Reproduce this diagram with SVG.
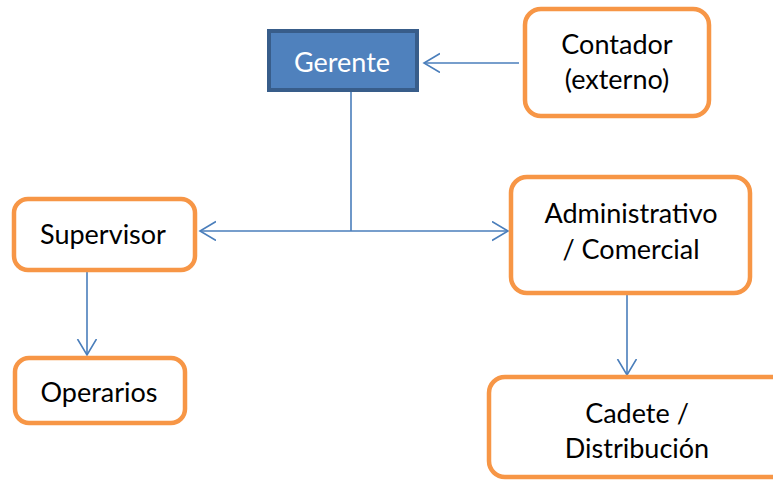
<svg xmlns="http://www.w3.org/2000/svg" width="773" height="480" viewBox="0 0 773 480">
<style>
.box{fill:#ffffff;stroke:#f79646;stroke-width:4.5}
.t{font-family:Lato,"Open Sans",sans-serif;font-size:27px;fill:#000000;text-anchor:middle}
.c{fill:none;stroke:#4a7ebb;stroke-width:1.6}
</style>
<defs>
<marker id="ah" markerUnits="userSpaceOnUse" markerWidth="20" markerHeight="22" refX="16" refY="10" orient="auto" viewBox="0 0 20 22">
<path d="M0,0.5 L16,10 L0,19.5" fill="none" stroke="#4a7ebb" stroke-width="1.6"/>
</marker>
</defs>
<g id="connectors">
<line class="c" x1="519" y1="63" x2="424" y2="63" marker-end="url(#ah)"/>
<line class="c" x1="351" y1="92" x2="351" y2="231"/>
<line class="c" x1="351" y1="231" x2="200" y2="231" marker-end="url(#ah)"/>
<line class="c" x1="351" y1="231" x2="508" y2="231" marker-end="url(#ah)"/>
<line class="c" x1="87" y1="272" x2="87" y2="355" marker-end="url(#ah)"/>
<line class="c" x1="627" y1="290" x2="627" y2="375" marker-end="url(#ah)"/>
</g>
<g id="gerente">
<rect x="269" y="31" width="148" height="59" fill="#4f81bd" stroke="#385d8a" stroke-width="4"/>
<text class="t" x="342" y="72" style="fill:#ffffff">Gerente</text>
</g>
<g id="contador">
<rect class="box" x="525" y="9" width="184" height="107" rx="16"/>
<text class="t" x="617" y="54">Contador</text>
<text class="t" x="617" y="89">(externo)</text>
</g>
<g id="supervisor">
<rect class="box" x="14" y="199" width="181" height="71" rx="14"/>
<text class="t" x="103" y="244">Supervisor</text>
</g>
<g id="administrativo">
<rect class="box" x="511" y="177" width="239" height="116" rx="16"/>
<text class="t" x="631" y="223">Administrativo</text>
<text class="t" x="631" y="259">/ Comercial</text>
</g>
<g id="operarios">
<rect class="box" x="15" y="358" width="170" height="65" rx="14"/>
<text class="t" x="99" y="402">Operarios</text>
</g>
<g id="cadete">
<rect class="box" x="489" y="377" width="300" height="100" rx="16"/>
<text class="t" x="637" y="423">Cadete /</text>
<text class="t" x="637" y="458">Distribución</text>
</g>
</svg>
